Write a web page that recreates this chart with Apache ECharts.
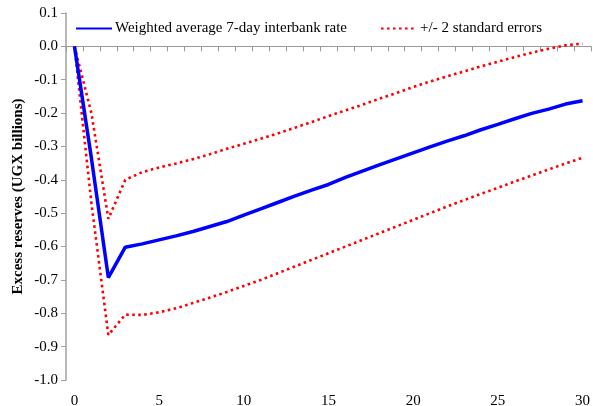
<html><head><meta name="viewport" content="width=device-width, initial-scale=1">
<script src="https://cdn.jsdelivr.net/npm/echarts@6/dist/echarts.min.js" type="text/javascript"></script>
<style type="text/css">
        html { height: 100%; }
        body { height: 100%; margin: 0px; padding: 0px; background: #fff; }
    </style></head><body><div id="main" style="width: 593px;height:406px;"></div><script type="text/javascript">
        var days = [];
        for (var d = 0; d <= 30; d++) { days.push(String(d)); }
        var meanName = 'Weighted average 7-day interbank rate';
        var bandName = '+/- 2 standard errors';
        var meanVals = [0, -0.335, -0.693, -0.602, -0.592, -0.580, -0.568, -0.555, -0.540, -0.525,
            -0.506, -0.487, -0.468, -0.449, -0.431, -0.414, -0.393, -0.374, -0.355, -0.337,
            -0.319, -0.301, -0.284, -0.268, -0.250, -0.234, -0.217, -0.201, -0.188, -0.173, -0.163];
        var upperVals = [0, -0.200, -0.517, -0.400, -0.377, -0.363, -0.351, -0.338, -0.323, -0.307,
            -0.292, -0.277, -0.261, -0.244, -0.227, -0.209, -0.192, -0.175, -0.157, -0.140,
            -0.122, -0.105, -0.090, -0.075, -0.060, -0.046, -0.032, -0.019, -0.007, 0.003, 0.008];
        var lowerVals = [0, -0.470, -0.865, -0.804, -0.805, -0.797, -0.785, -0.769, -0.753, -0.736,
            -0.718, -0.700, -0.680, -0.660, -0.640, -0.620, -0.600, -0.580, -0.560, -0.540,
            -0.520, -0.500, -0.480, -0.461, -0.442, -0.424, -0.405, -0.387, -0.369, -0.351, -0.334];

        var font = 'Liberation Serif';
        var gridTop = 13, gridBottom = 26, chartH = 406;
        var yMin = -1.0, yMax = 0.1;
        // distance from top of plot to the zero line
        var zeroOffset = (chartH - gridTop - gridBottom) * yMax / (yMax - yMin);
        var myChart = echarts.init(document.getElementById('main'));
        var dotted = { color: '#ff0000', width: 2.6, type: [2.6, 3.4] };
        option = {
            animation: false,
            textStyle: { fontFamily: font },
            grid: { left: 66, right: 2, top: gridTop, bottom: gridBottom, outerBoundsMode: 'none', containLabel: false },
            legend: {
                data: [meanName, bandName],
                top: 12, left: 70,
                itemGap: 33, itemWidth: 36, itemHeight: 10,
                itemStyle: { opacity: 0 },
                textStyle: { fontFamily: font, fontSize: 15, color: '#000', padding: [0, 0, 0, -2] }
            },
            xAxis: [{
                type: 'category', data: days, position: 'bottom',
                axisLine: { show: false, onZero: false }, axisTick: { show: false },
                axisLabel: { interval: 4, fontSize: 15, color: '#000', margin: 10, fontFamily: font }
            }, {
                type: 'category', data: days, position: 'top', offset: -zeroOffset,
                axisLine: { show: true, onZero: false, lineStyle: { color: '#999', width: 1 } },
                axisTick: { show: true, inside: true, interval: 0, length: 5, lineStyle: { color: '#999', width: 1 } },
                axisLabel: { show: true, interval: 0, color: 'rgba(0,0,0,0)', fontSize: 1 }
            }],
            yAxis: {
                type: 'value', min: yMin, max: yMax, interval: 0.1,
                name: 'Excess reserves (UGX billions)', nameLocation: 'middle', nameGap: 36,
                nameMoveOverlap: false,
                nameTextStyle: { fontFamily: font, fontSize: 15, fontWeight: 'bold', color: '#000' },
                splitLine: { show: false },
                axisLine: { show: true, lineStyle: { color: '#a0a0a0', width: 1.5 } },
                axisTick: { show: true, length: 5, lineStyle: { color: '#a0a0a0' } },
                axisLabel: { fontSize: 15, color: '#000', margin: 8, fontFamily: font,
                    formatter: function (v) { return v.toFixed(1); } }
            },
            series: [{
                name: meanName, type: 'line', data: meanVals, symbol: 'none',
                lineStyle: { color: '#0000ff', width: 3.5 }, itemStyle: { color: '#0000ff' }, z: 3
            }, {
                name: bandName, type: 'line', data: upperVals, symbol: 'none',
                lineStyle: dotted, itemStyle: { color: '#ff0000' }, z: 2
            }, {
                name: bandName, type: 'line', data: lowerVals, symbol: 'none',
                lineStyle: dotted, itemStyle: { color: '#ff0000' }, z: 2
            }]
        };
        myChart.setOption(option);
    </script></body></html>
